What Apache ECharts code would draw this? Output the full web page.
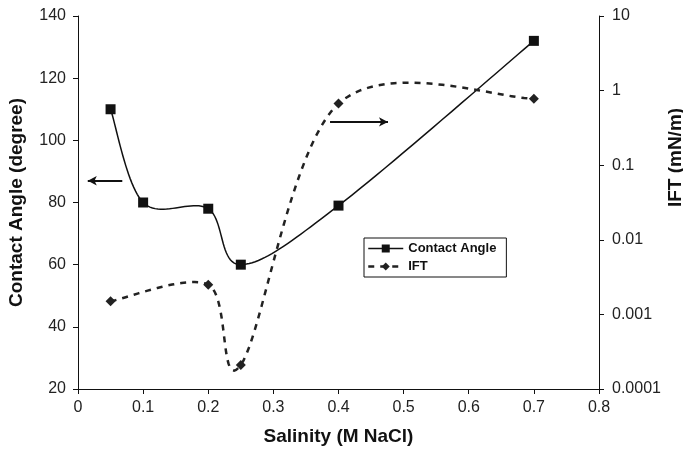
<!DOCTYPE html>
<html>
<head>
<meta charset="utf-8">
<script src="https://cdn.jsdelivr.net/npm/echarts@6/dist/echarts.min.js"></script>
<style>
  html, body { margin: 0; padding: 0; background: #fff; }
  #chart { width: 683px; height: 450px; }
</style>
</head>
<body>
<div id="chart"></div>
<script>
// salinity (M NaCl)
const contact_x = [0.05, 0.1, 0.2, 0.25, 0.4, 0.7];
const contact_angle = [110, 80, 78, 60, 79, 132];
const ift_x = [0.05, 0.2, 0.25, 0.4, 0.7];
const ift_values = [0.0015, 0.0025, 0.00021, 0.67, 0.78];

const font = "'Liberation Sans', Arial, Helvetica, sans-serif";
const ink = "#111";

// excel-like smoothed line: catmull-rom through the points, in pixel space
function splineItem(xs, ys, style) {
  return function (params, api) {
    if (params.dataIndex !== 0) return null;
    const pts = xs.map((x, i) => api.coord([x, ys[i]]));
    const out = [pts[0]];
    const n = pts.length;
    for (let i = 0; i < n - 1; i++) {
      const p0 = pts[Math.max(i - 1, 0)], p1 = pts[i], p2 = pts[i + 1], p3 = pts[Math.min(i + 2, n - 1)];
      const c1 = [p1[0] + (p2[0] - p0[0]) / 6, p1[1] + (p2[1] - p0[1]) / 6];
      const c2 = [p2[0] - (p3[0] - p1[0]) / 6, p2[1] - (p3[1] - p1[1]) / 6];
      for (let s = 1; s <= 24; s++) {
        const t = s / 24, u = 1 - t;
        out.push([
          u * u * u * p1[0] + 3 * u * u * t * c1[0] + 3 * u * t * t * c2[0] + t * t * t * p2[0],
          u * u * u * p1[1] + 3 * u * u * t * c1[1] + 3 * u * t * t * c2[1] + t * t * t * p2[1],
        ]);
      }
    }
    return { type: "polyline", shape: { points: out }, style: Object.assign({ fill: null }, style) };
  };
}

const chart = echarts.init(document.getElementById("chart"));

const nameStyle = { fontFamily: font, fontSize: 19, fontWeight: "bold", color: ink };

chart.setOption({
  backgroundColor: "#fff",
  animation: false,
  textStyle: { fontFamily: font },
  grid: { left: 78, right: 84, top: 16, bottom: 61, containLabel: false, outerBoundsMode: "none" },
  legend: {
    orient: "vertical",
    left: 364,
    top: 238,
    padding: [4, 10, 4, 3],
    itemGap: 5,
    itemWidth: 35,
    itemHeight: 10,
    borderColor: ink,
    borderWidth: 1,
    backgroundColor: "#fff",
    selectedMode: false,
    textStyle: { fontFamily: font, fontSize: 13, fontWeight: "bold", color: ink },
    data: [
      { name: "Contact Angle", lineStyle: { opacity: 1, width: 1.5, color: ink, type: "solid" } },
      { name: "IFT", lineStyle: { opacity: 1, width: 2.5, color: "#222", type: [6, 6] } },
    ],
  },
  xAxis: {
    type: "value",
    min: 0,
    max: 0.8,
    interval: 0.1,
    name: "Salinity (M NaCl)",
    nameLocation: "middle",
    nameGap: 38,
    nameMoveOverlap: false,
    nameTextStyle: nameStyle,
    axisLine: { lineStyle: { color: ink, width: 1 } },
    axisTick: { show: true, length: 5, lineStyle: { color: ink } },
    axisLabel: { color: "#222", fontSize: 16, margin: 11,
      formatter: (v) => String(Math.round(v * 10) / 10) },
    splitLine: { show: false },
  },
  yAxis: [
    {
      type: "value",
      min: 20,
      max: 140,
      interval: 20,
      name: "Contact Angle (degree)",
      nameLocation: "middle",
      nameGap: 52,
      nameMoveOverlap: false,
      nameTextStyle: nameStyle,
      axisLine: { show: true, lineStyle: { color: ink, width: 1 } },
      axisTick: { show: true, length: 5, lineStyle: { color: ink } },
      axisLabel: { color: "#222", fontSize: 16, margin: 12 },
      splitLine: { show: false },
    },
    {
      type: "log",
      logBase: 10,
      min: 0.0001,
      max: 10,
      position: "right",
      name: "IFT (mN/m)",
      nameLocation: "middle",
      nameGap: 67,
      nameRotate: 90,
      nameMoveOverlap: false,
      nameTextStyle: Object.assign({ padding: [0, 0, 0, 90] }, nameStyle),
      axisLine: { show: true, lineStyle: { color: ink, width: 1 } },
      axisTick: { show: true, length: 5, lineStyle: { color: ink } },
      axisLabel: { color: "#222", fontSize: 16, margin: 13,
        formatter: (v) => String(parseFloat(v.toPrecision(3))) },
      splitLine: { show: false },
    },
  ],
  series: [
    {
      name: "Contact Angle curve",
      type: "custom",
      yAxisIndex: 0,
      silent: true,
      z: 2,
      data: contact_x.map((x, i) => [x, contact_angle[i]]),
      renderItem: splineItem(contact_x, contact_angle, { stroke: ink, lineWidth: 1.5 }),
    },
    {
      name: "IFT curve",
      type: "custom",
      yAxisIndex: 1,
      silent: true,
      z: 2,
      data: ift_x.map((x, i) => [x, ift_values[i]]),
      renderItem: splineItem(ift_x, ift_values, { stroke: "#222", lineWidth: 2.5, lineDash: [6, 6] }),
    },
    {
      name: "Contact Angle",
      type: "line",
      yAxisIndex: 0,
      data: contact_x.map((x, i) => [x, contact_angle[i]]),
      symbol: "rect",
      symbolSize: 10,
      lineStyle: { color: ink, width: 1.5, opacity: 0 },
      itemStyle: { color: ink },
      z: 3,
      markLine: {
        silent: true,
        symbol: ["arrow", "none"],
        symbolSize: [7, 9],
        label: { show: false },
        lineStyle: { color: ink, width: 2, type: "solid", opacity: 1 },
        data: [[{ coord: [0.015, 87] }, { coord: [0.068, 87] }]],
      },
    },
    {
      name: "IFT",
      type: "line",
      yAxisIndex: 1,
      data: ift_x.map((x, i) => [x, ift_values[i]]),
      symbol: "diamond",
      symbolSize: 10,
      lineStyle: { color: "#222", width: 2.5, type: [6, 6], opacity: 0 },
      itemStyle: { color: "#222" },
      z: 3,
      markLine: {
        silent: true,
        symbol: ["none", "arrow"],
        symbolSize: [7, 9],
        label: { show: false },
        lineStyle: { color: ink, width: 2, type: "solid", opacity: 1 },
        data: [[{ coord: [0.387, 0.38] }, { coord: [0.476, 0.38] }]],
      },
    },
  ],
});
</script>
</body>
</html>
